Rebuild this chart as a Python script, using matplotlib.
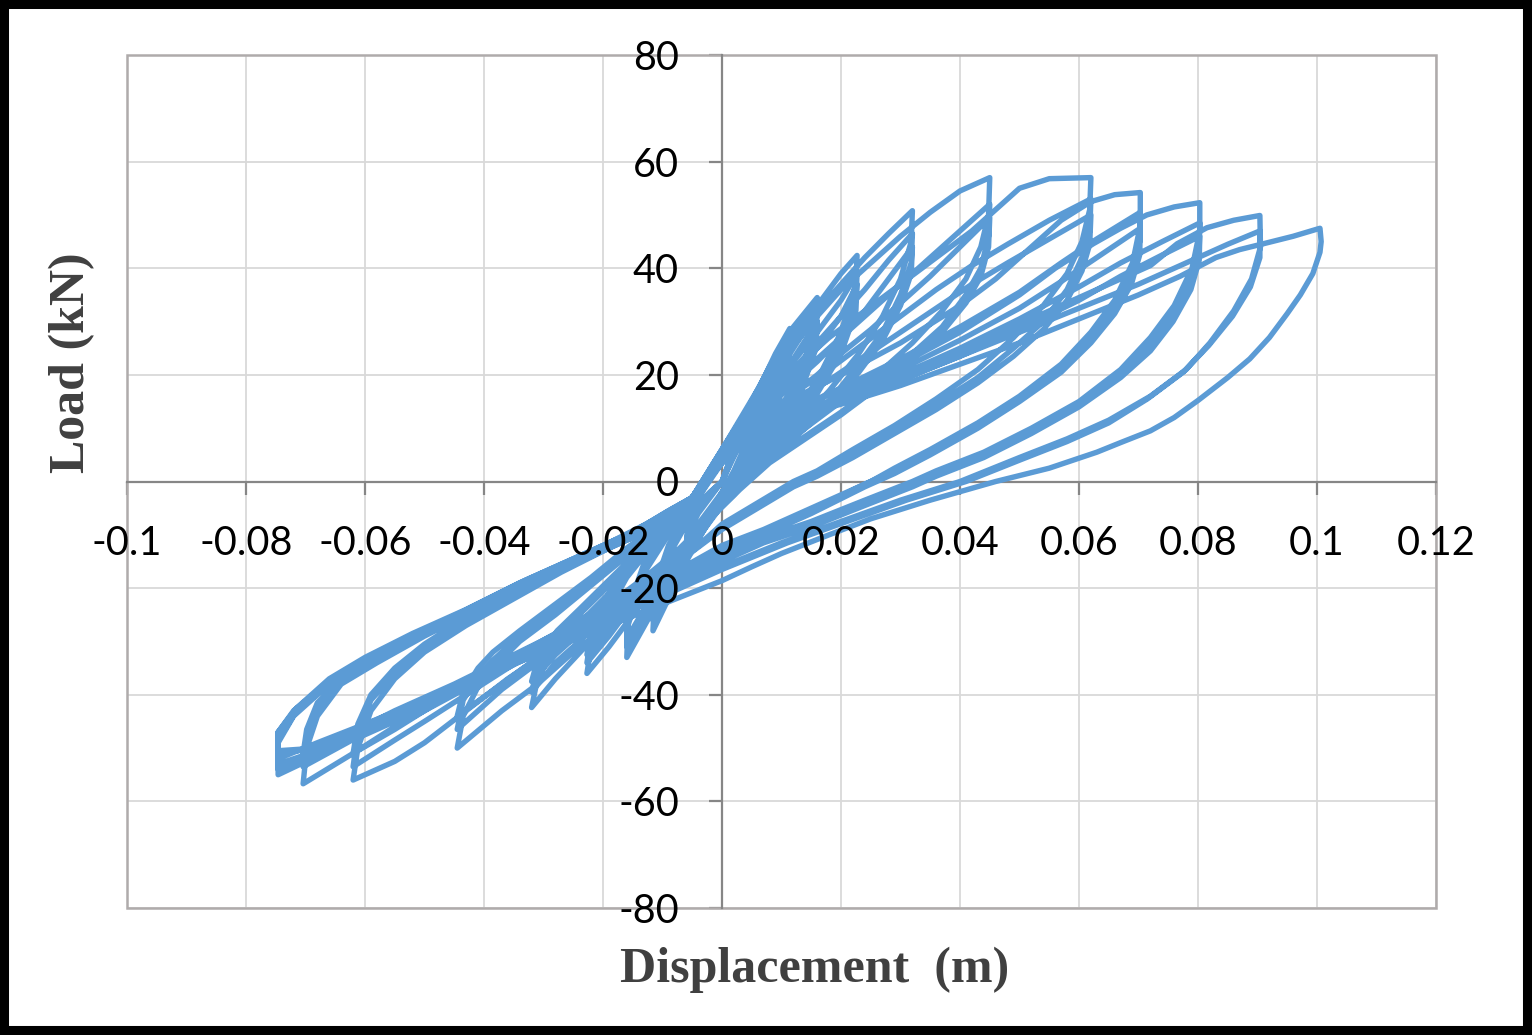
import numpy as np
import matplotlib
matplotlib.use("Agg")
import matplotlib.pyplot as plt
from matplotlib.patches import Rectangle

plt.rcParams['axes.unicode_minus'] = False

# cyclic test record: displacement (m), load (kN)
loop_006a = [(0, 0), (0.002, 6), (0.004, 12), (0.006, 17), (0.0058, 13), (0.004, 7), (0.002, 2), (0, -2),
             (-0.002, -6), (-0.004, -9), (-0.006, -13), (-0.0058, -10), (-0.004, -6), (-0.002, -3), (0, 0)]
loop_006b = [(0, 0), (0.002, 5), (0.004, 10), (0.006, 15), (0.0058, 11), (0.004, 6), (0.002, 1), (0, -2),
             (-0.002, -5), (-0.004, -8), (-0.006, -12), (-0.0058, -9), (-0.004, -5), (-0.002, -2), (0, 0)]
loop_011a = [(0, 0), (0.003, 9), (0.006, 17), (0.009, 24), (0.0114, 28.7), (0.0112, 24), (0.009, 16), (0.006, 9),
             (0.003, 3), (0, -3), (-0.003, -9), (-0.006, -15), (-0.009, -22), (-0.0116, -28), (-0.0114, -23),
             (-0.009, -14), (-0.006, -8), (-0.003, -4), (0, 0)]
loop_011b = [(0, 0), (0.003, 8), (0.006, 15), (0.009, 22), (0.0114, 27), (0.0112, 22), (0.009, 15), (0.006, 8),
             (0.003, 2), (0, -4), (-0.003, -9), (-0.006, -14), (-0.009, -20), (-0.0116, -26), (-0.0114, -21),
             (-0.009, -13), (-0.006, -7), (-0.003, -3), (0, 0)]
loop_011c = [(0, 0), (0.003, 7), (0.006, 14), (0.009, 20), (0.0114, 25.5), (0.0112, 21), (0.009, 14), (0.006, 7),
             (0.003, 1), (0, -4), (-0.003, -8), (-0.006, -13), (-0.009, -19), (-0.0116, -24.5), (-0.0114, -20),
             (-0.009, -12), (-0.006, -6), (-0.003, -3), (-0.004, -3)]
loop_016a = [(-0.004, -3), (0, 5), (0.004, 13), (0.008, 21.5), (0.012, 29), (0.016, 34.5), (0.0158, 29),
             (0.013, 20), (0.009, 12), (0.005, 5), (0.001, -2), (-0.003, -9), (-0.007, -16), (-0.011, -23),
             (-0.016, -33), (-0.0158, -27), (-0.013, -17), (-0.009, -10), (-0.004, -3)]
loop_016b = [(-0.004, -3), (0, 4), (0.004, 11), (0.008, 18), (0.012, 25), (0.016, 32), (0.0158, 27), (0.013, 18),
             (0.009, 10), (0.005, 4), (0.001, -3), (-0.003, -9), (-0.007, -15), (-0.011, -21), (-0.016, -31),
             (-0.0158, -25), (-0.013, -16), (-0.009, -9), (-0.004, -3)]
loop_016c = [(-0.004, -3), (0, 3.5), (0.004, 10), (0.008, 16), (0.012, 23), (0.016, 30), (0.0158, 25),
             (0.013, 16), (0.009, 9), (0.005, 3), (0.001, -3), (-0.003, -8), (-0.007, -14), (-0.011, -20),
             (-0.016, -29.5), (-0.0158, -24), (-0.013, -15), (-0.009, -8), (-0.005, -3)]
loop_023a = [(-0.005, -3), (0, 6), (0.004, 13.5), (0.008, 21), (0.012, 27.5), (0.016, 33), (0.02, 39),
             (0.0227, 42.4), (0.0225, 37), (0.02, 28), (0.016, 19), (0.011, 11), (0.006, 5), (0.002, 0),
             (-0.002, -6), (-0.006, -12), (-0.01, -18), (-0.015, -25), (-0.019, -31), (-0.0227, -36),
             (-0.022, -31), (-0.0195, -25), (-0.016, -18), (-0.011, -11), (-0.007, -6), (-0.005, -3)]
loop_023b = [(-0.005, -3), (0, 5), (0.004, 11), (0.008, 17), (0.012, 22.5), (0.016, 28), (0.02, 34),
             (0.0227, 39), (0.0225, 34), (0.02, 26), (0.016, 18), (0.011, 10), (0.006, 4), (0.002, -1),
             (-0.002, -7), (-0.006, -12), (-0.01, -17), (-0.015, -23), (-0.019, -29), (-0.0227, -34),
             (-0.022, -29), (-0.0195, -23), (-0.016, -16.5), (-0.011, -10), (-0.007, -5.5), (-0.005, -3)]
loop_023c = [(-0.005, -3), (0, 4.5), (0.004, 10), (0.008, 15), (0.012, 20), (0.016, 25), (0.02, 31),
             (0.0227, 37), (0.0225, 32), (0.02, 24), (0.016, 16.5), (0.011, 9), (0.006, 3.5), (0.002, -1.5),
             (-0.002, -7), (-0.006, -11.5), (-0.01, -16), (-0.015, -22), (-0.019, -27.5), (-0.0227, -32.5),
             (-0.022, -28), (-0.0195, -22), (-0.016, -15), (-0.011, -9), (-0.007, -5.5), (-0.005, -3)]
loop_032a = [(-0.005, -3), (0, 6), (0.004, 13), (0.008, 20), (0.012, 26.5), (0.016, 32), (0.02, 37), (0.024, 42),
             (0.028, 46.5), (0.032, 50.8), (0.0318, 45), (0.03, 38), (0.027, 31), (0.023, 24), (0.018, 17),
             (0.012, 10), (0.006, 4), (0.002, -1), (-0.003, -8), (-0.008, -14), (-0.013, -20), (-0.018, -26),
             (-0.023, -31), (-0.028, -37), (-0.032, -42.4), (-0.031, -37), (-0.0277, -30.4), (-0.024, -26.6),
             (-0.019, -21), (-0.014, -15), (-0.009, -8.5), (-0.005, -3)]
loop_032b = [(-0.005, -3), (0, 5), (0.004, 11), (0.008, 16), (0.012, 21), (0.016, 26), (0.02, 31), (0.024, 36),
             (0.028, 41.5), (0.032, 46.5), (0.0318, 41), (0.03, 35), (0.027, 28), (0.023, 22), (0.018, 15),
             (0.012, 9), (0.006, 3), (0.002, -2), (-0.003, -8), (-0.008, -14), (-0.013, -19), (-0.018, -24),
             (-0.023, -29), (-0.028, -34), (-0.032, -39.5), (-0.031, -35), (-0.0277, -29), (-0.024, -25),
             (-0.019, -19.5), (-0.014, -14), (-0.009, -8), (-0.005, -3)]
loop_032c = [(-0.005, -3), (0, 4.5), (0.004, 9.5), (0.008, 14), (0.012, 18.5), (0.016, 22.5), (0.02, 27),
             (0.024, 32), (0.028, 38), (0.032, 44), (0.0318, 39), (0.03, 33), (0.027, 26.5), (0.023, 20.5),
             (0.018, 14), (0.012, 8), (0.006, 2.5), (0.002, -2.5), (-0.003, -8), (-0.008, -13.5), (-0.013, -18.5),
             (-0.018, -23), (-0.023, -27.5), (-0.028, -32.5), (-0.032, -37.5), (-0.031, -33.5), (-0.0277, -28),
             (-0.024, -24), (-0.019, -18.5), (-0.014, -13), (-0.009, -7.5), (-0.005, -3)]
loop_045a = [(-0.005, -3), (0, 6), (0.004, 13), (0.008, 19.5), (0.012, 25.5), (0.016, 31), (0.02, 36),
             (0.025, 41), (0.03, 46), (0.035, 50.5), (0.04, 54.5), (0.045, 57), (0.0448, 50), (0.0435, 44),
             (0.041, 38), (0.037, 32), (0.032, 26), (0.026, 20), (0.02, 15), (0.014, 10), (0.008, 5), (0.003, 0),
             (-0.002, -7), (-0.007, -14), (-0.013, -21), (-0.019, -27), (-0.025, -32), (-0.031, -38),
             (-0.037, -43), (-0.0445, -50), (-0.0435, -44), (-0.041, -38.5), (-0.0385, -35), (-0.034, -30),
             (-0.028, -25), (-0.022, -19.5), (-0.016, -14), (-0.01, -8.5), (-0.005, -3)]
loop_045b = [(-0.005, -3), (0, 5), (0.004, 10.5), (0.008, 15), (0.012, 19.5), (0.016, 23), (0.02, 27),
             (0.025, 32), (0.03, 37), (0.035, 42), (0.04, 47), (0.045, 52), (0.0448, 46), (0.0435, 40),
             (0.041, 35), (0.037, 29), (0.032, 24), (0.026, 18), (0.02, 13), (0.014, 8.5), (0.008, 4),
             (0.003, -1), (-0.002, -7), (-0.007, -13), (-0.013, -19), (-0.019, -24), (-0.025, -29), (-0.031, -34),
             (-0.037, -39), (-0.0445, -46.5), (-0.0435, -41), (-0.041, -36.5), (-0.0385, -33.5), (-0.034, -29),
             (-0.028, -24), (-0.022, -18.5), (-0.016, -13), (-0.01, -8), (-0.005, -3)]
loop_045c = [(-0.005, -3), (0, 4.5), (0.004, 9.5), (0.008, 13), (0.012, 16.5), (0.016, 20), (0.02, 24),
             (0.025, 28.5), (0.03, 33.5), (0.035, 38.5), (0.04, 44), (0.045, 49.5), (0.0448, 44), (0.0435, 38.5),
             (0.041, 33.5), (0.037, 28), (0.032, 23), (0.026, 17.5), (0.02, 12.5), (0.014, 8), (0.008, 3.5),
             (0.003, -1.5), (-0.002, -7), (-0.007, -12.5), (-0.013, -18), (-0.019, -23), (-0.025, -28),
             (-0.031, -33), (-0.037, -38), (-0.0445, -44), (-0.0435, -39.5), (-0.041, -35), (-0.0385, -32),
             (-0.034, -28), (-0.028, -23), (-0.022, -18), (-0.016, -12.5), (-0.01, -7.5), (-0.005, -3)]
loop_062a = [(-0.005, -3), (0, 5.5), (0.004, 12), (0.008, 16.5), (0.012, 21), (0.018, 27), (0.024, 32),
             (0.03, 37), (0.036, 42), (0.042, 47), (0.046, 51), (0.05, 55), (0.055, 56.8), (0.062, 57),
             (0.0618, 51), (0.0605, 45), (0.058, 39), (0.054, 33), (0.049, 27), (0.043, 21), (0.036, 15.5),
             (0.029, 10.5), (0.022, 6), (0.016, 2), (0.012, 0), (0.006, -4), (0, -8), (-0.006, -14),
             (-0.012, -19), (-0.02, -25), (-0.028, -31), (-0.036, -37), (-0.043, -43), (-0.05, -49),
             (-0.055, -52.5), (-0.062, -56), (-0.0612, -50), (-0.059, -43), (-0.055, -37), (-0.05, -32),
             (-0.043, -27), (-0.035, -22), (-0.027, -17), (-0.019, -12.5), (-0.011, -8), (-0.005, -3)]
loop_062b = [(-0.005, -3), (0, 5), (0.004, 10), (0.008, 13), (0.012, 16.5), (0.018, 21), (0.024, 26),
             (0.03, 31), (0.036, 36), (0.042, 40.5), (0.048, 44.5), (0.055, 49), (0.062, 53), (0.0618, 47),
             (0.0605, 42), (0.058, 36), (0.054, 30), (0.049, 25), (0.043, 19.5), (0.036, 14.5), (0.029, 9.5),
             (0.022, 5), (0.016, 1.5), (0.012, -0.5), (0.006, -4.5), (0, -8.5), (-0.006, -14), (-0.012, -18.5),
             (-0.02, -24), (-0.028, -29.5), (-0.036, -35), (-0.043, -40), (-0.05, -45), (-0.055, -48.5),
             (-0.062, -53.5), (-0.0612, -47), (-0.059, -41), (-0.055, -36), (-0.05, -31), (-0.043, -26),
             (-0.035, -21), (-0.027, -16.5), (-0.019, -12), (-0.011, -7.5), (-0.005, -3)]
loop_062c = [(-0.005, -3), (0, 4.5), (0.004, 9), (0.008, 12), (0.012, 15), (0.018, 19), (0.024, 23.5),
             (0.03, 28), (0.036, 32.5), (0.042, 37), (0.048, 41), (0.055, 45.5), (0.062, 50), (0.0618, 44.5),
             (0.0605, 39.5), (0.058, 34), (0.054, 28.5), (0.049, 23.5), (0.043, 18.5), (0.036, 13.5), (0.029, 9),
             (0.022, 4.5), (0.016, 1), (0.012, -1), (0.006, -5), (0, -9), (-0.006, -14), (-0.012, -18),
             (-0.02, -23.5), (-0.028, -28.5), (-0.036, -33.5), (-0.043, -38), (-0.05, -43), (-0.055, -46.5),
             (-0.062, -51), (-0.0612, -45.5), (-0.059, -40), (-0.055, -35), (-0.05, -30.5), (-0.043, -25.5),
             (-0.035, -20.5), (-0.027, -16), (-0.019, -11.5), (-0.011, -7), (-0.005, -3)]
loop_070a = [(-0.005, -3), (0, 5), (0.005, 11.5), (0.01, 14.5), (0.02, 20), (0.03, 26), (0.04, 33), (0.046, 38),
             (0.052, 44), (0.057, 49), (0.062, 52.5), (0.066, 53.8), (0.0703, 54.2), (0.0703, 48), (0.069, 41),
             (0.066, 34), (0.062, 28), (0.057, 22), (0.05, 16), (0.043, 11), (0.035, 6), (0.029, 2.5), (0.025, 0),
             (0.015, -5), (0.007, -9), (0, -12), (-0.008, -17), (-0.016, -22), (-0.025, -28), (-0.035, -34),
             (-0.045, -40), (-0.055, -46), (-0.062, -51), (-0.0704, -56.7), (-0.0698, -50), (-0.068, -44),
             (-0.064, -38), (-0.058, -34), (-0.05, -29), (-0.042, -24.5), (-0.033, -19.5), (-0.024, -15),
             (-0.015, -10), (-0.009, -6), (-0.005, -3)]
loop_070b = [(-0.005, -3), (0, 4.5), (0.005, 9.5), (0.01, 12.5), (0.02, 17.5), (0.03, 23), (0.04, 29),
             (0.05, 35.5), (0.057, 41), (0.063, 45.5), (0.0703, 50.5), (0.0702, 45), (0.0688, 39), (0.066, 33),
             (0.062, 27), (0.057, 21.5), (0.05, 15.5), (0.043, 10.5), (0.035, 5.5), (0.029, 2), (0.024, -0.5),
             (0.015, -5.5), (0.007, -9.5), (0, -12.5), (-0.008, -17), (-0.016, -22), (-0.025, -27.5),
             (-0.035, -33), (-0.045, -38.5), (-0.055, -44), (-0.063, -49), (-0.0704, -53.5), (-0.0698, -48),
             (-0.068, -42.5), (-0.064, -37.5), (-0.058, -33.5), (-0.05, -28.5), (-0.042, -24), (-0.033, -19),
             (-0.024, -14.5), (-0.015, -9.5), (-0.009, -5.5), (-0.005, -3)]
loop_070c = [(-0.005, -3), (0, 4), (0.005, 8.5), (0.01, 11.5), (0.02, 16), (0.03, 21), (0.04, 26.5),
             (0.05, 32.5), (0.057, 37.5), (0.063, 42), (0.0703, 47.5), (0.0702, 42.5), (0.0688, 37), (0.066, 31.5),
             (0.062, 26), (0.057, 20.5), (0.05, 15), (0.043, 10), (0.035, 5), (0.029, 1.5), (0.024, -1),
             (0.015, -6), (0.007, -10), (0, -13), (-0.008, -17.5), (-0.016, -22), (-0.025, -27), (-0.035, -32.5),
             (-0.045, -38), (-0.055, -43), (-0.063, -47.5), (-0.0704, -51), (-0.0698, -46.5), (-0.068, -41.5),
             (-0.064, -37), (-0.058, -33), (-0.05, -28), (-0.042, -23.5), (-0.033, -18.5), (-0.024, -14),
             (-0.015, -9.5), (-0.009, -5.5), (-0.005, -3)]
loop_080a = [(-0.005, -3.5), (0, 4.5), (0.005, 10), (0.01, 13), (0.02, 17), (0.03, 22), (0.04, 28), (0.05, 35),
             (0.056, 40), (0.0624, 44.6), (0.067, 47.5), (0.0714, 50), (0.076, 51.5), (0.0803, 52.3),
             (0.0803, 47), (0.079, 40), (0.076, 33), (0.072, 27), (0.067, 21), (0.06, 15), (0.052, 10),
             (0.044, 5.5), (0.036, 2), (0.032, 0), (0.024, -3.5), (0.015, -7.5), (0.007, -10.5), (0, -14),
             (-0.008, -18.5), (-0.017, -23.5), (-0.027, -29), (-0.038, -35), (-0.05, -41.5), (-0.06, -47),
             (-0.068, -51.5), (-0.0746, -55), (-0.0746, -49), (-0.072, -44), (-0.066, -38), (-0.06, -34),
             (-0.052, -29.5), (-0.043, -25), (-0.034, -20), (-0.024, -15), (-0.015, -10.5), (-0.009, -6.5),
             (-0.005, -3.5)]
loop_080b = [(-0.005, -3.5), (0, 4), (0.005, 9), (0.01, 12), (0.02, 15.5), (0.03, 20), (0.04, 25), (0.05, 30.5),
             (0.06, 36.5), (0.067, 41), (0.074, 45), (0.0803, 48.5), (0.0802, 43.5), (0.0788, 37.5),
             (0.0758, 31), (0.072, 25.5), (0.067, 20), (0.06, 14.5), (0.052, 9.5), (0.044, 5), (0.036, 1.5),
             (0.032, -0.5), (0.024, -4), (0.015, -8), (0.007, -11), (0, -14.5), (-0.008, -19), (-0.017, -24),
             (-0.027, -29.5), (-0.038, -35.5), (-0.05, -42), (-0.06, -47), (-0.068, -50), (-0.0746, -51),
             (-0.0746, -47), (-0.072, -43), (-0.066, -37.5), (-0.06, -33.5), (-0.052, -29), (-0.043, -24.5),
             (-0.034, -19.5), (-0.024, -14.5), (-0.015, -10), (-0.009, -6.5), (-0.005, -3.5)]
loop_080c = [(-0.005, -3.5), (0, 3.5), (0.005, 8), (0.01, 11), (0.02, 15), (0.03, 19), (0.04, 23.5), (0.05, 28.5),
             (0.06, 34), (0.067, 38.5), (0.074, 42.5), (0.0803, 46), (0.0802, 41.5), (0.0788, 36), (0.0758, 30),
             (0.072, 24.5), (0.067, 19.5), (0.06, 14), (0.052, 9), (0.044, 4.5), (0.036, 1), (0.032, -1),
             (0.024, -4.5), (0.015, -8.5), (0.007, -11.5), (0, -15), (-0.008, -19.5), (-0.017, -24.5),
             (-0.027, -30), (-0.038, -36), (-0.05, -42.5), (-0.06, -47.5), (-0.068, -50.5), (-0.0746, -53),
             (-0.0746, -48), (-0.072, -43.5), (-0.066, -38), (-0.06, -34), (-0.052, -29.5), (-0.043, -25),
             (-0.034, -20), (-0.024, -15), (-0.015, -10.5), (-0.009, -6.5), (-0.005, -3.5)]
loop_090a = [(-0.005, -3.5), (0, 4), (0.005, 9), (0.01, 12), (0.02, 15.5), (0.03, 20), (0.04, 24.5), (0.05, 29.5),
             (0.06, 34.5), (0.067, 38), (0.072, 40.5), (0.0765, 44.6), (0.0815, 47.6), (0.086, 49),
             (0.0904, 49.9), (0.0905, 44), (0.089, 38), (0.086, 32), (0.082, 26), (0.078, 21), (0.072, 16),
             (0.065, 11.5), (0.058, 8), (0.05, 4.5), (0.04, 0), (0.03, -3.5), (0.02, -7.5), (0.01, -11.5),
             (0, -16), (-0.01, -21), (-0.02, -26), (-0.03, -31), (-0.04, -36), (-0.05, -41), (-0.06, -46),
             (-0.068, -50.5), (-0.0746, -54), (-0.0746, -48.5), (-0.0715, -43), (-0.066, -37.5), (-0.06, -33.5),
             (-0.052, -29), (-0.043, -24.5), (-0.034, -19.5), (-0.024, -14.5), (-0.015, -10), (-0.009, -6.5),
             (-0.005, -3.5)]
loop_090b = [(-0.005, -3.5), (0, 3.5), (0.005, 8.5), (0.01, 11.5), (0.02, 15), (0.03, 19), (0.04, 23.5),
             (0.05, 28), (0.06, 32.5), (0.07, 37), (0.078, 41), (0.085, 44.5), (0.0904, 47), (0.0904, 42),
             (0.0888, 36.5), (0.0858, 31), (0.0818, 25.5), (0.0775, 20.5), (0.0715, 15.5), (0.065, 11),
             (0.058, 7.5), (0.05, 4), (0.041, 0), (0.031, -3.5), (0.021, -7.5), (0.011, -11.5), (0, -16.5),
             (-0.01, -21.5), (-0.02, -26.5), (-0.03, -31.5), (-0.04, -36.5), (-0.05, -41.5), (-0.06, -46.5),
             (-0.068, -50), (-0.0746, -50.5), (-0.0746, -47), (-0.0715, -42.5), (-0.066, -37), (-0.06, -33),
             (-0.052, -28.5), (-0.043, -24), (-0.034, -19), (-0.024, -14), (-0.015, -9.5), (-0.009, -6.5),
             (-0.005, -4)]
loop_100 = [(-0.005, -4), (0, 4), (0.005, 9), (0.01, 11.5), (0.02, 14.5), (0.03, 18), (0.04, 22), (0.05, 26),
            (0.06, 30.5), (0.07, 35), (0.077, 38.5), (0.083, 42), (0.087, 43.5), (0.091, 44.6), (0.096, 46),
            (0.1005, 47.5), (0.1007, 45), (0.1005, 43), (0.0993, 39), (0.0972, 35), (0.095, 31.5), (0.092, 27),
            (0.0887, 23), (0.085, 19.5), (0.08, 15.2), (0.076, 12), (0.072, 9.5), (0.067, 7.3), (0.063, 5.5),
            (0.055, 2.5), (0.046, 0), (0.035, -3.5), (0.025, -7), (0.018, -10), (0.01, -13.5), (0.005, -16),
            (0, -18.6), (-0.01, -23), (-0.02, -27.5), (-0.03, -32), (-0.04, -36.5), (-0.05, -41), (-0.06, -45.5),
            (-0.068, -49), (-0.0746, -52), (-0.0746, -48)]

loops = [loop_006a, loop_006b, loop_011a, loop_011b, loop_011c, loop_016a, loop_016b, loop_016c,
         loop_023a, loop_023b, loop_023c, loop_032a, loop_032b, loop_032c, loop_045a, loop_045b, loop_045c,
         loop_062a, loop_062b, loop_062c, loop_070a, loop_070b, loop_070c, loop_080a, loop_080b, loop_080c,
         loop_090a, loop_090b, loop_100]

x_ticks = [-0.1, -0.08, -0.06, -0.04, -0.02, 0, 0.02, 0.04, 0.06, 0.08, 0.1, 0.12]
x_tick_labels = ['-0.1', '-0.08', '-0.06', '-0.04', '-0.02', '0', '0.02', '0.04', '0.06', '0.08', '0.1', '0.12']
y_ticks = [-80, -60, -40, -20, 0, 20, 40, 60, 80]
y_tick_labels = ['-80', '-60', '-40', '-20', '0', '20', '40', '60', '80']

record = np.concatenate([np.array(lp) for lp in loops])
disp = record[:, 0]
load = record[:, 1]

W, H = 1532, 1035
fig = plt.figure(figsize=(W / 100, H / 100), dpi=100)
rect = [127 / W, 1 - 908 / H, (1436 - 127) / W, (908 - 55) / H]

ax = fig.add_axes(rect)
ax.plot(disp, load, color='#5B9BD5', lw=3.9, solid_joinstyle='round', zorder=3)
ax.set_xlim(-0.1, 0.12)
ax.set_ylim(-80, 80)
ax.set_xticks(x_ticks)
ax.set_yticks(y_ticks)
ax.set_axisbelow(True)
ax.grid(True, color='#D9D9D9', lw=1.3)
ax.spines['top'].set_visible(False)
ax.spines['right'].set_visible(False)
for side in ['left', 'bottom']:
    ax.spines[side].set_position('zero')
    ax.spines[side].set_color('#868686')
    ax.spines[side].set_linewidth(1.6)
    ax.spines[side].set_zorder(2)
ax.tick_params(direction='out', length=9.5, width=1.6, color='#868686', labelleft=False, labelbottom=False)
ax.add_patch(Rectangle((0, 0), 1, 1, transform=ax.transAxes, fill=False, ec='#AFABAB', lw=1.8,
                       zorder=2, clip_on=False))

# tick labels on a transparent overlay so they sit above the loops
ax2 = fig.add_axes(rect, facecolor='none')
ax2.set_xlim(-0.1, 0.12)
ax2.set_ylim(-80, 80)
ax2.set_xticks(x_ticks)
ax2.set_yticks(y_ticks)
ax2.set_xticklabels(x_tick_labels)
ax2.set_yticklabels(y_tick_labels)
for side in ['top', 'right']:
    ax2.spines[side].set_visible(False)
for side in ['left', 'bottom']:
    ax2.spines[side].set_position('zero')
    ax2.spines[side].set_color('none')
ax2.tick_params(axis='x', length=0, pad=31, labelsize=28.5)
ax2.tick_params(axis='y', length=0, pad=31, labelsize=28.5)
for lab in ax2.get_xticklabels() + ax2.get_yticklabels():
    lab.set_fontfamily('Lato')
    lab.set_color('black')

fig.text(815 / W, 1 - 970 / H, 'Displacement  (m)', ha='center', va='center', fontsize=36,
         fontweight='bold', family='Liberation Serif', color='#404040')
fig.text(72 / W, 1 - 363 / H, 'Load (kN)', ha='center', va='center', rotation=90, fontsize=36,
         fontweight='bold', family='Liberation Serif', color='#404040')

fig.add_artist(Rectangle((0, 0), 1, 1, transform=fig.transFigure, fill=False, ec='black', lw=13,
                         clip_on=False))

fig.savefig('out.png', dpi=100)
